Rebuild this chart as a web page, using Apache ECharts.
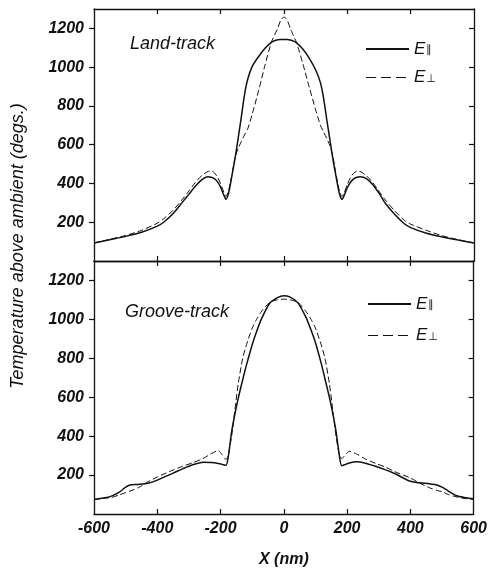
<!DOCTYPE html>
<html>
<head>
<meta charset="utf-8">
<script src="https://cdn.jsdelivr.net/npm/echarts@6/dist/echarts.min.js"></script>
<style>
  html, body { margin: 0; padding: 0; background: #fff; }
  #chart { width: 490px; height: 569px; }
</style>
</head>
<body>
<div id="chart"></div>
<script>
// X positions (nm) for each panel
const xLand = [-600,-550,-500,-450,-400,-380,-350,-320,-300,-280,-260,-240,-230,-220,-210,-200,-190,-183,-175,-165,-155,-145,-135,-125,-115,-100,-80,-60,-40,-30,-20,-10,0,
  10,20,30,40,60,80,100,115,125,135,145,155,165,175,183,190,200,210,220,230,240,260,280,300,320,350,380,400,450,500,550,600];
const landPar = [93,110,127,148,180,200,245,305,345,385,418,434,432,425,408,380,340,318,350,435,525,630,740,855,935,1005,1055,1097,1128,1136,1141,1143,1143,
  1143,1140,1134,1125,1092,1045,985,920,840,730,625,520,430,348,318,338,378,406,424,432,434,425,395,350,298,240,192,172,143,124,108,93];
const landPerp = [93,112,132,158,195,218,262,320,362,405,440,462,464,455,432,398,355,333,365,440,530,580,615,650,680,760,880,1010,1128,1165,1200,1243,1258,
  1243,1200,1162,1125,1015,895,780,700,665,632,595,535,440,362,333,352,395,430,453,463,462,440,405,360,315,258,210,190,158,130,110,93];

const xGroove = [-600,-570,-545,-520,-500,-486,-460,-430,-400,-350,-320,-290,-255,-230,-207,-195,-183,-176,-165,-155,-144,-130,-118,-100,-86,-70,-44,-20,0,
  20,44,70,86,100,118,130,144,155,165,176,183,195,207,230,255,290,320,350,400,430,460,486,500,520,545,570,600];
const groovePar = [75,82,92,112,138,149,152,158,174,210,232,252,266,265,260,255,250,290,423,510,595,690,766,870,938,1005,1084,1112,1121,
  1114,1086,1010,945,880,775,695,600,515,425,295,248,255,262,268,262,245,228,208,168,160,155,148,138,118,95,85,78];
const groovePerp = [75,80,85,98,110,118,135,165,190,226,245,262,285,310,325,305,280,300,400,530,670,800,870,955,1000,1042,1088,1101,1104,
  1100,1088,1040,1000,955,870,800,670,530,400,300,285,305,322,308,285,260,242,218,185,158,135,120,115,100,88,80,75];

const xTicks = [-400, -200, 0, 200, 400];
const xLabels = [-600, -400, -200, 0, 200, 400, 600];
const yTicks = [200, 400, 600, 800, 1000, 1200];

const pairs = (xs, ys) => xs.map((x, i) => [x, ys[i]]);

const chart = echarts.init(document.getElementById('chart'), null, { renderer: 'canvas' });

const ink = '#111';
const tickFont = { color: ink, fontSize: 16, fontWeight: 'bold', fontStyle: 'italic', fontFamily: 'Liberation Sans' };
const grids = [
  { left: 94, right: 16, top: 9, height: 252 },
  { left: 94, right: 16, top: 261, height: 253 }
];

const xAxisFor = (gridIndex, position, showLabels) => ({
  type: 'value', gridIndex, position, min: -600, max: 600, interval: 200,
  axisLine: { show: true, onZero: false, lineStyle: { color: ink, width: 1.3 } },
  axisTick: { show: true, inside: true, length: 5, customValues: xTicks, lineStyle: { color: ink, width: 1.2 } },
  axisLabel: showLabels
    ? { show: true, customValues: xLabels, margin: 7, formatter: v => String(v), ...tickFont }
    : { show: false },
  splitLine: { show: false },
  name: showLabels ? 'X (nm)' : '',
  nameLocation: 'middle', nameGap: 38,
  nameTextStyle: { ...tickFont, fontSize: 16 }
});

const yAxisFor = (gridIndex, position) => ({
  type: 'value', gridIndex, position, min: 0, max: 1300, interval: 200,
  axisLine: { show: true, onZero: false, lineStyle: { color: ink, width: 1.3 } },
  axisTick: { show: true, inside: position === 'right', length: 5, customValues: yTicks, lineStyle: { color: ink, width: 1.2 } },
  axisLabel: position === 'left'
    ? { show: true, customValues: yTicks, margin: 10, formatter: v => String(v), ...tickFont }
    : { show: false },
  splitLine: { show: false }
});

const lineSeries = (name, xi, yi, data, dashed) => ({
  name, type: 'line', xAxisIndex: xi, yAxisIndex: yi,
  data, symbol: 'none', smooth: 0.25, animation: false,
  lineStyle: dashed ? { color: ink, width: 1, type: [6, 3] } : { color: ink, width: 1.5 },
  itemStyle: { color: ink }
});

const legendFor = (left, top, gap) => ({
  data: [
    { name: 'E∥' },
    { name: 'E⊥', lineStyle: { type: [10, 5], width: 1.2 } }
  ],
  orient: 'vertical', left, top, padding: 0,
  itemWidth: 43, itemHeight: 14, itemGap: gap, selectedMode: false,
  itemStyle: { opacity: 0 },
  formatter: name => name === 'E∥' ? '{e|E}{s|∥}' : '{e|E}{s|⊥}',
  textStyle: {
    rich: {
      e: { fontSize: 17, lineHeight: 14, fontStyle: 'italic', color: ink, fontFamily: 'Liberation Sans' },
      s: { fontSize: 11, lineHeight: 14, color: ink, fontFamily: 'DejaVu Sans', verticalAlign: 'bottom', padding: [6, 0, 0, 1] }
    }
  }
});

const option = {
  backgroundColor: '#fff',
  animation: false,
  grid: grids,
  xAxis: [
    xAxisFor(0, 'bottom', false),
    xAxisFor(0, 'top', false),
    xAxisFor(1, 'bottom', true),
    xAxisFor(1, 'top', false)
  ],
  yAxis: [
    yAxisFor(0, 'left'),
    yAxisFor(0, 'right'),
    yAxisFor(1, 'left'),
    yAxisFor(1, 'right')
  ],
  legend: [
    legendFor(365, 39, 10),
    legendFor(367, 294, 13)
  ],
  graphic: [
    { type: 'text', left: 130, top: 35, style: { text: 'Land-track', fontSize: 18, fontStyle: 'italic', fontFamily: 'Liberation Sans', fill: ink } },
    { type: 'text', left: 125, top: 303, style: { text: 'Groove-track', fontSize: 18, fontStyle: 'italic', fontFamily: 'Liberation Sans', fill: ink } },
    { type: 'text', x: 18, y: 246, rotation: Math.PI / 2,
      style: { text: 'Temperature above ambient (degs.)', fontSize: 18, fontStyle: 'italic', fontFamily: 'Liberation Sans', fill: ink, align: 'center', verticalAlign: 'middle' } }
  ],
  series: [
    lineSeries('E∥', 0, 0, pairs(xLand, landPar), false),
    lineSeries('E⊥', 0, 0, pairs(xLand, landPerp), true),
    lineSeries('E∥', 2, 2, pairs(xGroove, groovePar), false),
    lineSeries('E⊥', 2, 2, pairs(xGroove, groovePerp), true)
  ]
};

chart.setOption(option);
</script>
</body>
</html>
